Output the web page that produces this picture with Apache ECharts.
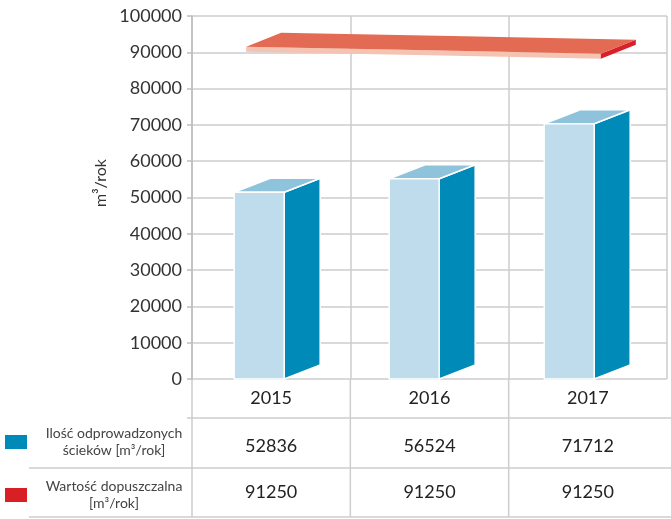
<!DOCTYPE html>
<html>
<head>
<meta charset="utf-8">
<script src="https://cdn.jsdelivr.net/npm/echarts@6/dist/echarts.min.js"></script>
<style>
html,body{margin:0;padding:0;background:#fff;}
#c{width:671px;height:519px;}
</style>
</head>
<body>
<div id="c"></div>
<script>
const categories = ['2015', '2016', '2017'];
const wastewater = [52836, 56524, 71712];
const limitValues = [91250, 91250, 91250];
const seriesNames = ['Ilość odprowadzonych\nścieków [m³/rok]', 'Wartość dopuszczalna\n[m³/rok]'];
const yMin = 0, yMax = 100000, yInterval = 10000;

const FONT = 'Lato';
const GRID = {left: 192, right: 4, top: 16, bottom: 140};
const W = 671, H = 519;
const DX = 36, DY = -14;
const gridColor = '#cdcdcd';

const chart = echarts.init(document.getElementById('c'), null, {renderer: 'canvas'});

function barItem(params, api) {
  const idx = api.value(0), v = api.value(1);
  const p = api.coord([idx, v]);
  const c = p[0], yv = p[1];
  const y0 = api.coord([idx, 0])[1];
  const band = api.size([1, 0])[0];
  const firstCenter = params.coordSys.x + band / 2;
  const off = -37 - 0.021 * (c - firstCenter);
  const fl = c + off, fr = fl + 50;
  const ft = yv + 5;
  const stroke = {stroke: '#fff', lineWidth: 1.5, lineJoin: 'round'};
  return {
    type: 'group',
    children: [
      {type: 'polygon', shape: {points: [[fr, ft], [fr + DX, ft + DY], [fr + DX, y0 + DY], [fr, y0]]},
        style: Object.assign({fill: '#008ab8'}, stroke)},
      {type: 'polygon', shape: {points: [[fl, ft], [fr, ft], [fr + DX, ft + DY], [fl + DX, ft + DY]]},
        style: Object.assign({fill: '#8fc2db'}, stroke)},
      {type: 'rect', shape: {x: fl, y: ft, width: 50, height: y0 - ft},
        style: Object.assign({fill: '#bfdcec'}, stroke)}
    ]
  };
}

function planeItem(params, api) {
  if (params.dataIndex !== 0) return null;
  const n = limitValues.length;
  const pts = limitValues.map((v, i) => api.coord([i, v]));
  const xL = pts[0][0] - 25, xR = pts[n - 1][0] + 13;
  const tilt = x => -1 + 0.0197 * (x - xL);
  const front = [[xL, pts[0][1] + tilt(xL)]];
  pts.forEach(p => front.push([p[0], p[1] + tilt(p[0])]));
  front.push([xR, pts[n - 1][1] + tilt(xR)]);
  const back = front.map(p => [p[0] + 35, p[1] + DY]).reverse();
  const th = 5;
  const frontLow = front.map(p => [p[0], p[1] + th]).reverse();
  const r = front[front.length - 1];
  return {
    type: 'group',
    children: [
      {type: 'polygon', shape: {points: front.concat(frontLow)}, style: {fill: '#f5c3b1'}},
      {type: 'polygon', shape: {points: [[r[0], r[1]], [r[0] + 35, r[1] + DY], [r[0] + 35, r[1] + DY + th], [r[0], r[1] + th]]},
        style: {fill: '#d81f2a'}},
      {type: 'polygon', shape: {points: front.concat(back)}, style: {fill: '#e36a53'}}
    ]
  };
}

function tableRow(rowOffset) {
  return function (params, api) {
    const idx = api.value(0), v = api.value(1);
    const c = api.coord([idx, 0]);
    return {
      type: 'text',
      style: {x: c[0], y: c[1] + rowOffset, text: String(v), align: 'center', verticalAlign: 'middle',
        font: '18px ' + FONT, fill: '#222'}
    };
  };
}

const plotW = W - GRID.left - GRID.right;
const band = plotW / categories.length;
const y0px = H - GRID.bottom;
const graphics = [];
function hline(x1, x2, y) {
  graphics.push({type: 'line', shape: {x1: x1, y1: y, x2: x2, y2: y}, style: {stroke: gridColor, lineWidth: 1.5}, silent: true});
}
function vline(x, y1, y2) {
  graphics.push({type: 'line', shape: {x1: x, y1: y1, x2: x, y2: y2}, style: {stroke: gridColor, lineWidth: 1.5}, silent: true});
}
for (let i = 0; i < categories.length; i++) vline(GRID.left + i * band, y0px, 517);
hline(GRID.left - 5, W, 418);
hline(29, W, 468);
hline(29, W, 517);
const legendColors = ['#008ab8', '#d81f26'];
const legendY = [442, 495];
seriesNames.forEach((name, i) => {
  graphics.push({type: 'rect', shape: {x: 5, y: legendY[i] - 7, width: 22, height: 14}, style: {fill: legendColors[i]}, silent: true});
  graphics.push({type: 'text', style: {x: 114, y: legendY[i], text: name, align: 'center', verticalAlign: 'middle',
    font: '14px ' + FONT, fill: '#444', lineHeight: 16.5}, silent: true});
});
graphics.push({type: 'text', rotation: Math.PI / 2, x: 101, y: 183,
  style: {text: 'm³/rok', align: 'center', verticalAlign: 'middle', font: '16px ' + FONT, fill: '#333'}, silent: true});

chart.setOption({
  animation: false,
  grid: GRID,
  xAxis: {
    type: 'category', data: categories, boundaryGap: true,
    axisLine: {show: false}, axisTick: {show: false},
    axisLabel: {margin: 10, fontFamily: FONT, fontSize: 18, color: '#222'},
    splitLine: {show: true, lineStyle: {color: gridColor, width: 1.5}}
  },
  yAxis: {
    type: 'value', min: yMin, max: yMax, interval: yInterval,
    axisLine: {show: true, lineStyle: {color: '#bdbdbd', width: 1.5}},
    axisTick: {show: true, length: 5, lineStyle: {color: '#bdbdbd', width: 1.5}},
    axisLabel: {margin: 10, fontFamily: FONT, fontSize: 18, color: '#333', formatter: v => String(v)},
    splitLine: {show: true, lineStyle: {color: gridColor, width: 1.5}}
  },
  graphic: graphics,
  series: [
    {type: 'custom', name: seriesNames[0], renderItem: barItem, data: wastewater.map((v, i) => [i, v]), z: 3},
    {type: 'custom', name: seriesNames[1], renderItem: planeItem, data: limitValues.map((v, i) => [i, v]), z: 4},
    {type: 'custom', renderItem: tableRow(67), data: wastewater.map((v, i) => [i, v]), clip: false, z: 5},
    {type: 'custom', renderItem: tableRow(113), data: limitValues.map((v, i) => [i, v]), clip: false, z: 5}
  ]
});
</script>
</body>
</html>
